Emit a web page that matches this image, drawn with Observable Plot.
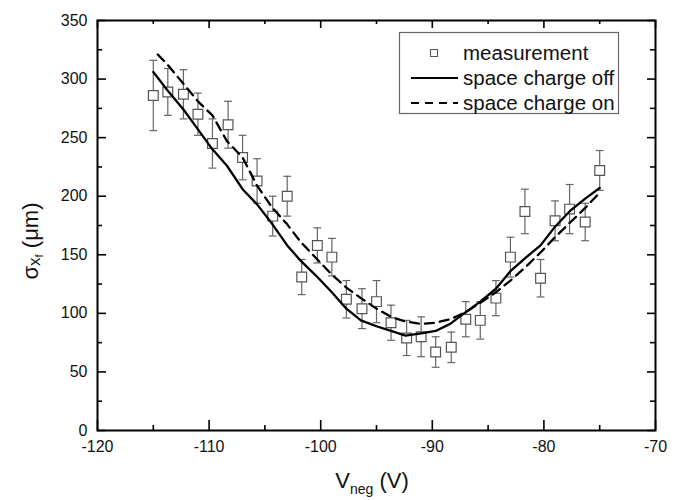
<!DOCTYPE html>
<html>
<head>
<meta charset="utf-8">
<script src="https://cdn.jsdelivr.net/npm/d3@7"></script>
<script src="https://cdn.jsdelivr.net/npm/@observablehq/plot@0.6"></script>
<style>
  html, body { margin: 0; padding: 0; background: #fff; }
  #chart { position: relative; width: 681px; height: 500px; }
</style>
</head>
<body>
<div id="chart"></div>
<script>
// ---- data ----
const measX = [-115, -113.7, -112.3, -111, -109.7, -108.3, -107, -105.7, -104.3, -103, -101.7, -100.3, -99, -97.7, -96.3, -95, -93.7, -92.3, -91, -89.7, -88.3, -87, -85.7, -84.3, -83, -81.7, -80.3, -79, -77.7, -76.3, -75];
const measY = [286, 289, 287, 270, 245, 261, 233, 213, 183, 200, 131, 158, 148, 112, 104, 110, 92, 79, 80, 67, 71, 95, 94, 113, 148, 187, 130, 179, 189, 178, 222];
const measErr = [30, 20, 21, 18, 21, 20, 19, 19, 17, 17, 15, 15, 16, 16, 17, 18, 15, 15, 17, 13, 13, 15, 16, 15, 17, 19, 16, 17, 21, 16, 17];

const offX = [-115, -113.7, -112.3, -111, -109.7, -108.4, -107, -105.7, -104.4, -103, -101.8, -100.3, -99, -97.7, -96.4, -95, -93.7, -92.4, -91, -89.7, -88.4, -87, -85.7, -84.3, -83, -81.7, -80.3, -79, -77.6, -76.3, -75];
const offY = [306, 290, 274, 257, 240, 226, 206, 193, 177, 158, 145, 131, 118, 104, 94, 89, 85, 81, 83, 85, 91, 101, 110, 121, 136, 147, 158, 174, 188, 198, 207];

const onX = [-114.6, -113.7, -112.3, -111, -109.7, -108.4, -107, -105.7, -104.4, -103, -101.8, -100.3, -99, -97.7, -96.4, -95, -93.7, -92.4, -91, -89.7, -88.4, -87, -85.7, -84.3, -83, -81.7, -80.3, -79, -77.6, -76.3, -75];
const onY = [321, 312, 296, 281, 269, 247, 233, 209, 191, 176, 161, 146, 133, 122, 113, 104, 97, 93, 91, 92, 95, 101, 109, 118, 128, 139, 152, 165, 178, 190, 203];

const xMajor = [-120, -110, -100, -90, -80, -70];
const xMinor = [-115, -105, -95, -85, -75];
const yMajor = [0, 50, 100, 150, 200, 250, 300, 350];
const yMinor = [25, 75, 125, 175, 225, 275, 325];

const legendLabels = ["measurement", "space charge off", "space charge on"];

// ---- build tables ----
const meas = measX.map((x, i) => ({x, y: measY[i], lo: measY[i] - measErr[i], hi: measY[i] + measErr[i]}));
const off = offX.map((x, i) => ({x, y: offY[i]}));
const on = onX.map((x, i) => ({x, y: onY[i]}));

const W = 681, H = 500;
const mL = 97, mR = 26, mT = 20, mB = 70;
const fw = W - mL - mR, fh = H - mT - mB;
const xDom = [-120, -70], yDom = [0, 350];
const pxPerX = fw / (xDom[1] - xDom[0]);
const pxPerY = fh / (yDom[1] - yDom[0]);
const capHalf = 0.35;

// tick lengths in pixels, converted to data units so the rules go through the scales
const tx = px => px / pxPerX;
const ty = px => px / pxPerY;
const tickSt = {stroke: "black", strokeWidth: 1.6};

const svg = Plot.plot({
  width: W, height: H,
  marginLeft: mL, marginRight: mR, marginTop: mT, marginBottom: mB,
  style: {fontSize: "16px", fontFamily: "'Liberation Sans', Arial, sans-serif", color: "black", background: "white"},
  x: {domain: xDom},
  y: {domain: yDom},
  marks: [
    // error bars
    Plot.ruleX(meas, {x: "x", y1: "lo", y2: "hi", stroke: "#666", strokeWidth: 1.2}),
    Plot.link(meas, {x1: d => d.x - capHalf, x2: d => d.x + capHalf, y1: "hi", y2: "hi", stroke: "#666", strokeWidth: 1.2}),
    Plot.link(meas, {x1: d => d.x - capHalf, x2: d => d.x + capHalf, y1: "lo", y2: "lo", stroke: "#666", strokeWidth: 1.2}),
    // squares
    Plot.dot(meas, {x: "x", y: "y", symbol: "square", r: 5.5, fill: "white", stroke: "#555", strokeWidth: 1.2}),
    // lines
    Plot.line(off, {x: "x", y: "y", stroke: "black", strokeWidth: 2.3}),
    Plot.line(on, {x: "x", y: "y", stroke: "black", strokeWidth: 2.3, strokeDasharray: "9,6"}),
    // inward ticks: bottom, top, left, right
    Plot.ruleX(xMajor, {x: d => d, y1: () => yDom[0], y2: () => yDom[0] + ty(10), ...tickSt}),
    Plot.ruleX(xMinor, {x: d => d, y1: () => yDom[0], y2: () => yDom[0] + ty(5), ...tickSt}),
    Plot.ruleX(xMajor, {x: d => d, y1: () => yDom[1], y2: () => yDom[1] - ty(8), ...tickSt}),
    Plot.ruleX(xMinor, {x: d => d, y1: () => yDom[1], y2: () => yDom[1] - ty(4), ...tickSt}),
    Plot.ruleY(yMajor, {y: d => d, x1: () => xDom[0], x2: () => xDom[0] + tx(9), ...tickSt}),
    Plot.ruleY(yMinor, {y: d => d, x1: () => xDom[0], x2: () => xDom[0] + tx(5), ...tickSt}),
    Plot.ruleY(yMajor, {y: d => d, x1: () => xDom[1], x2: () => xDom[1] - tx(8), ...tickSt}),
    Plot.ruleY(yMinor, {y: d => d, x1: () => xDom[1], x2: () => xDom[1] - tx(5), ...tickSt}),
    // axes labels only
    Plot.axisX({ticks: xMajor, tickSize: 0, tickPadding: 10, tickFormat: d => String(d), label: null, fill: "#111"}),
    Plot.axisY({ticks: yMajor, tickSize: 0, tickPadding: 10, tickFormat: d => String(d), label: null, fill: "#111"}),
    Plot.frame({stroke: "black", strokeWidth: 2})
  ]
});

const s = d3.select(svg);
const font = "'Liberation Sans', Arial, sans-serif";

// x-axis title
const xt = s.append("text")
  .attr("x", mL + fw / 2 - 4).attr("y", H - 12)
  .attr("text-anchor", "middle")
  .attr("font-family", font).attr("font-size", 22).attr("fill", "#111");
xt.append("tspan").text("V");
xt.append("tspan").attr("font-size", 14).attr("dy", 6).text("neg");
xt.append("tspan").attr("dy", -6).text(" (V)");

// y-axis title
const yt = s.append("text")
  .attr("transform", `translate(38, ${mT + fh / 2 + 16}) rotate(-90)`)
  .attr("text-anchor", "middle")
  .attr("font-family", font).attr("font-size", 22).attr("fill", "#111");
yt.append("tspan").text("σ");
yt.append("tspan").attr("font-size", 17).attr("dy", 2).text("x");
yt.append("tspan").attr("font-size", 11).attr("dy", 3).text("f");
yt.append("tspan").attr("dy", -5).text(" (μm)");

// legend
const lg = s.append("g").attr("font-family", font).attr("font-size", 20.5).attr("fill", "#111")
  .attr("text-anchor", "start");
lg.append("rect").attr("x", 399.5).attr("y", 32.5).attr("width", 219).attr("height", 81)
  .attr("fill", "white").attr("stroke", "#666").attr("stroke-width", 1.2);
const rowY = [53, 78, 103];
lg.append("rect").attr("x", 430.5).attr("y", rowY[0] - 3.5).attr("width", 7).attr("height", 7)
  .attr("fill", "white").attr("stroke", "#555").attr("stroke-width", 1);
lg.append("line").attr("x1", 411).attr("x2", 458).attr("y1", rowY[1]).attr("y2", rowY[1])
  .attr("stroke", "black").attr("stroke-width", 2);
lg.append("line").attr("x1", 411).attr("x2", 458).attr("y1", rowY[2]).attr("y2", rowY[2])
  .attr("stroke", "black").attr("stroke-width", 2).attr("stroke-dasharray", "8,6");
legendLabels.forEach((t, i) => {
  lg.append("text").attr("x", 463).attr("y", rowY[i]).attr("dy", "0.35em")
    .attr("text-anchor", "start").text(t);
});

document.getElementById("chart").appendChild(svg);
</script>
</body>
</html>
